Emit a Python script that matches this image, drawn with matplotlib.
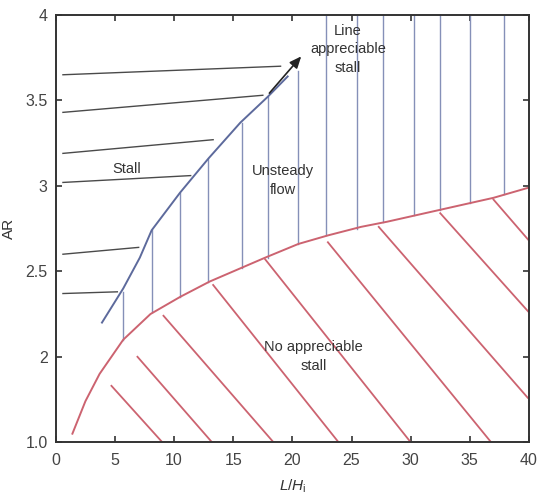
import matplotlib
matplotlib.use("Agg")
import matplotlib.pyplot as plt
import numpy as np

plt.rcParams['font.family'] = ['Liberation Sans', 'DejaVu Sans']
plt.rcParams['mathtext.fontset'] = 'custom'
plt.rcParams['mathtext.rm'] = 'Liberation Sans'
plt.rcParams['mathtext.it'] = 'Liberation Sans:italic'

# Stall boundary (blue curve)
stall_x = [3.9, 5.7, 7.1, 8.1, 10.5, 12.9, 15.6, 17.9, 19.6]
stall_ar = [2.20, 2.40, 2.58, 2.74, 2.96, 3.16, 3.37, 3.52, 3.64]

# No-appreciable-stall boundary (red curve)
nostall_x = [1.4, 2.5, 3.7, 5.7, 8.0, 10.5, 13.0, 17.7, 20.5, 23.0, 25.8, 28.0, 32.5, 37.0, 40.0]
nostall_ar = [1.55, 1.74, 1.90, 2.10, 2.25, 2.35, 2.44, 2.58, 2.66, 2.71, 2.76, 2.79, 2.86, 2.93, 2.99]

# Stall region hatching (near-horizontal lines): start/end points
stall_hatch_x0 = [0.6, 0.6, 0.6, 0.6, 0.6, 0.6]
stall_hatch_y0 = [3.65, 3.43, 3.19, 3.02, 2.60, 2.37]
stall_hatch_x1 = [19.0, 17.5, 13.3, 11.4, 7.0, 5.2]
stall_hatch_y1 = [3.70, 3.53, 3.27, 3.06, 2.64, 2.38]

# Unsteady flow hatching (vertical lines): x, bottom, top
unsteady_x = [5.7, 8.1, 10.5, 12.9, 15.7, 17.9, 20.5, 22.8, 25.5, 27.7, 30.3, 32.5, 35.0, 37.9]
unsteady_bottom = [2.10, 2.26, 2.35, 2.44, 2.52, 2.58, 2.66, 2.71, 2.75, 2.79, 2.83, 2.86, 2.90, 2.95]
unsteady_top = [2.38, 2.74, 2.96, 3.16, 3.37, 3.52, 3.67, 4.0, 4.0, 4.0, 4.0, 4.0, 4.0, 4.0]

# No appreciable stall hatching (diagonal lines): start/end points
red_hatch_x0 = [4.7, 6.9, 9.1, 13.3, 17.7, 23.0, 27.3, 32.5, 37.0]
red_hatch_y0 = [1.83, 2.00, 2.24, 2.42, 2.57, 2.67, 2.76, 2.84, 2.92]
red_hatch_x1 = [9.0, 13.2, 18.4, 23.9, 30.0, 36.8, 39.9, 40.0, 40.0]
red_hatch_y1 = [1.50, 1.50, 1.50, 1.50, 1.50, 1.50, 1.76, 2.26, 2.68]

# y axis: bottom tick is labelled 1.0 in the original figure
y_ticks = [1.5, 2.0, 2.5, 3.0, 3.5, 4.0]
y_tick_labels = ['1.0', '2', '2.5', '3', '3.5', '4']
x_ticks = [0, 5, 10, 15, 20, 25, 30, 35, 40]

blue = '#5d6a9c'
vline = '#8590b8'
red = '#cc6370'
dark = '#333333'

fig = plt.figure(figsize=(5.37, 4.98), dpi=100)
ax = fig.add_axes([0.104, 0.112, 0.881, 0.858])

for x0, y0, x1, y1 in zip(stall_hatch_x0, stall_hatch_y0, stall_hatch_x1, stall_hatch_y1):
    ax.plot([x0, x1], [y0, y1], color='#4a4a4a', lw=1.0)

for x, b, t in zip(unsteady_x, unsteady_bottom, unsteady_top):
    ax.plot([x, x], [b, t], color=vline, lw=1.0)

for x0, y0, x1, y1 in zip(red_hatch_x0, red_hatch_y0, red_hatch_x1, red_hatch_y1):
    ax.plot([x0, x1], [y0, y1], color=red, lw=1.3)

ax.plot(stall_x, stall_ar, color=blue, lw=1.4)
ax.plot(nostall_x, nostall_ar, color=red, lw=1.4)

ax.annotate('', xy=(20.9, 3.77), xytext=(17.9, 3.53),
            arrowprops=dict(arrowstyle='-|>,head_length=0.7,head_width=0.3',
                            color='#222222', lw=1.2))

txt = dict(fontsize=10.5, color='#333333', ha='center', va='center')
ax.text(6.0, 3.10, 'Stall', **txt)
ax.text(19.2, 3.03, 'Unsteady\nflow', linespacing=1.45, **txt)
ax.text(24.7, 3.80, 'Line\nappreciable\nstall', linespacing=1.4, **txt)
ax.text(21.8, 2.00, 'No appreciable\nstall', linespacing=1.45, **txt)

ax.set_xlim(0, 40)
ax.set_ylim(1.5, 4.0)
ax.set_xticks(x_ticks)
ax.set_yticks(y_ticks)
ax.set_yticklabels(y_tick_labels)
ax.tick_params(direction='in', length=4, width=1.2, top=True, right=True,
               labelsize=11.5, labelcolor='#444444', color=dark)
ax.tick_params(axis='x', pad=8)
ax.tick_params(axis='y', pad=6)
for sp in ax.spines.values():
    sp.set_color(dark)
    sp.set_linewidth(1.4)

ax.set_ylabel('AR', fontsize=11, color='#333333', labelpad=7)
ax.set_xlabel(r'$\mathit{L/H}_\mathrm{i}$', fontsize=11, color='#333333', labelpad=7)

fig.savefig('out.png', dpi=100)
